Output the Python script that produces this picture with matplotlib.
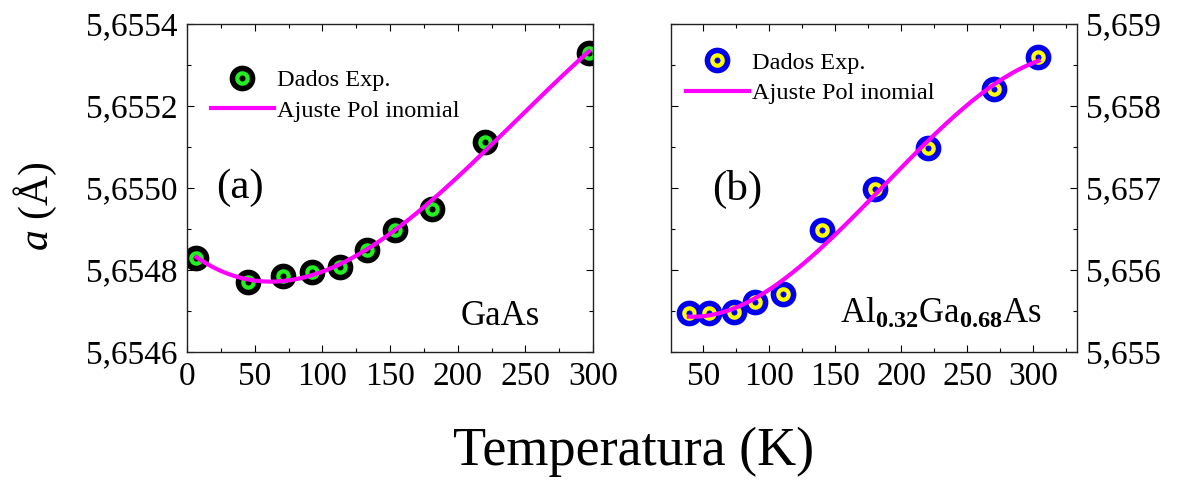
import matplotlib
matplotlib.use("Agg")
import matplotlib.pyplot as plt
import numpy as np
from matplotlib.ticker import MultipleLocator, FuncFormatter
from matplotlib.legend_handler import HandlerTuple

plt.rcParams['font.family'] = ['Liberation Serif', 'DejaVu Serif']
plt.rcParams['mathtext.fontset'] = 'custom'
plt.rcParams['mathtext.rm'] = 'Liberation Serif'
plt.rcParams['mathtext.it'] = 'Liberation Serif:italic'
plt.rcParams['mathtext.bf'] = 'Liberation Serif:bold'

# Dados
T_gaas = [7, 45, 71, 92, 113, 133, 154, 181, 220, 297]
a_gaas = [5.65483, 5.65477, 5.654785, 5.654796, 5.654808, 5.654849,
          5.654898, 5.654948, 5.655111, 5.65533]

T_algaas = [39, 54, 73, 89, 110, 140, 180, 220, 270, 304]
a_algaas = [5.655472, 5.65547, 5.655491, 5.655613, 5.655707, 5.656488,
            5.656984, 5.657492, 5.658204, 5.658594]

W, H = 1178, 496
fig = plt.figure(figsize=(W / 100, H / 100), dpi=100)
ax1 = fig.add_axes([187 / W, (H - 352) / H, 406 / W, 328 / H])
ax2 = fig.add_axes([670.7 / W, (H - 352) / H, 406 / W, 328 / H])


def draw_panel(ax, T, a, deg, face, edge):
    p = np.polyfit(T, a, deg)
    tt = np.linspace(min(T), max(T), 300)
    outer, = ax.plot(T, a, 'o', ms=14.5, mfc=face, mec=edge, mew=4, zorder=2)
    dot, = ax.plot(T, a, 'o', ms=3.8, mfc=edge, mec=edge, mew=0.5, zorder=3)
    fit, = ax.plot(tt, np.polyval(p, tt), color='#ff00ff', lw=3, zorder=4)
    return outer, dot, fit


def style_axis(ax, ymaj, ymin, fmt):
    ax.tick_params(which='both', direction='in', top=True, right=True,
                   labelsize=24, width=0.8, pad=7)
    ax.tick_params(which='major', length=5)
    ax.tick_params(which='minor', length=2.7)
    ax.yaxis.set_major_locator(MultipleLocator(ymaj))
    ax.yaxis.set_minor_locator(MultipleLocator(ymin))
    ax.xaxis.set_major_locator(MultipleLocator(50))
    ax.xaxis.set_minor_locator(MultipleLocator(25))
    ax.yaxis.set_major_formatter(FuncFormatter(lambda v, _: (fmt % v).replace('.', ',')))
    for s in ax.spines.values():
        s.set_linewidth(1.0)
        s.set_color('#222222')


def add_legend(ax, h, anchor):
    ax.legend([(h[0], h[1]), h[2]], ['Dados Exp.', 'Ajuste Pol inomial'],
              handler_map={tuple: HandlerTuple(ndivide=1)},
              loc='upper left', bbox_to_anchor=anchor, frameon=False,
              fontsize=17.5, handlelength=2.6, handletextpad=0.12,
              borderpad=0, borderaxespad=0, labelspacing=0.35)


# (a) GaAs
h1 = draw_panel(ax1, T_gaas, a_gaas, 3, '#22ee22', 'black')
ax1.set_xlim(0, 300)
ax1.set_ylim(5.6546, 5.6554)
style_axis(ax1, 0.0002, 0.0001, '%.4f')
add_legend(ax1, h1, (0.058, 0.862))
ax1.text(0.13, 0.5, '(a)', transform=ax1.transAxes, fontsize=31,
         ha='center', va='center')
ax1.text(0.869, 0.082, 'GaAs', transform=ax1.transAxes, fontsize=25,
         ha='right', va='baseline')

# (b) AlGaAs
h2 = draw_panel(ax2, T_algaas, a_algaas, 3, '#ffff00', '#0000ee')
ax2.set_xlim(25.2, 333)
ax2.set_ylim(5.655, 5.659)
style_axis(ax2, 0.001, 0.0005, '%.3f')
ax2.tick_params(labelleft=False, labelright=True)
add_legend(ax2, h2, (0.037, 0.915))
ax2.text(0.163, 0.494, '(b)', transform=ax2.transAxes, fontsize=31,
         ha='center', va='center')
ax2.text(0.914, 0.088, r'Al$_{\mathbf{0.32}}$Ga$_{\mathbf{0.68}}$As',
         transform=ax2.transAxes, fontsize=25, ha='right', va='baseline')

fig.text(634 / W, 1 - 452 / H, 'Temperatura (K)', fontsize=39,
         ha='center', va='center')
fig.text(35 / W, 1 - 206 / H, r'$a$ (Å)', fontsize=30, rotation=90,
         ha='center', va='center')

fig.savefig('out.png', dpi=100)
